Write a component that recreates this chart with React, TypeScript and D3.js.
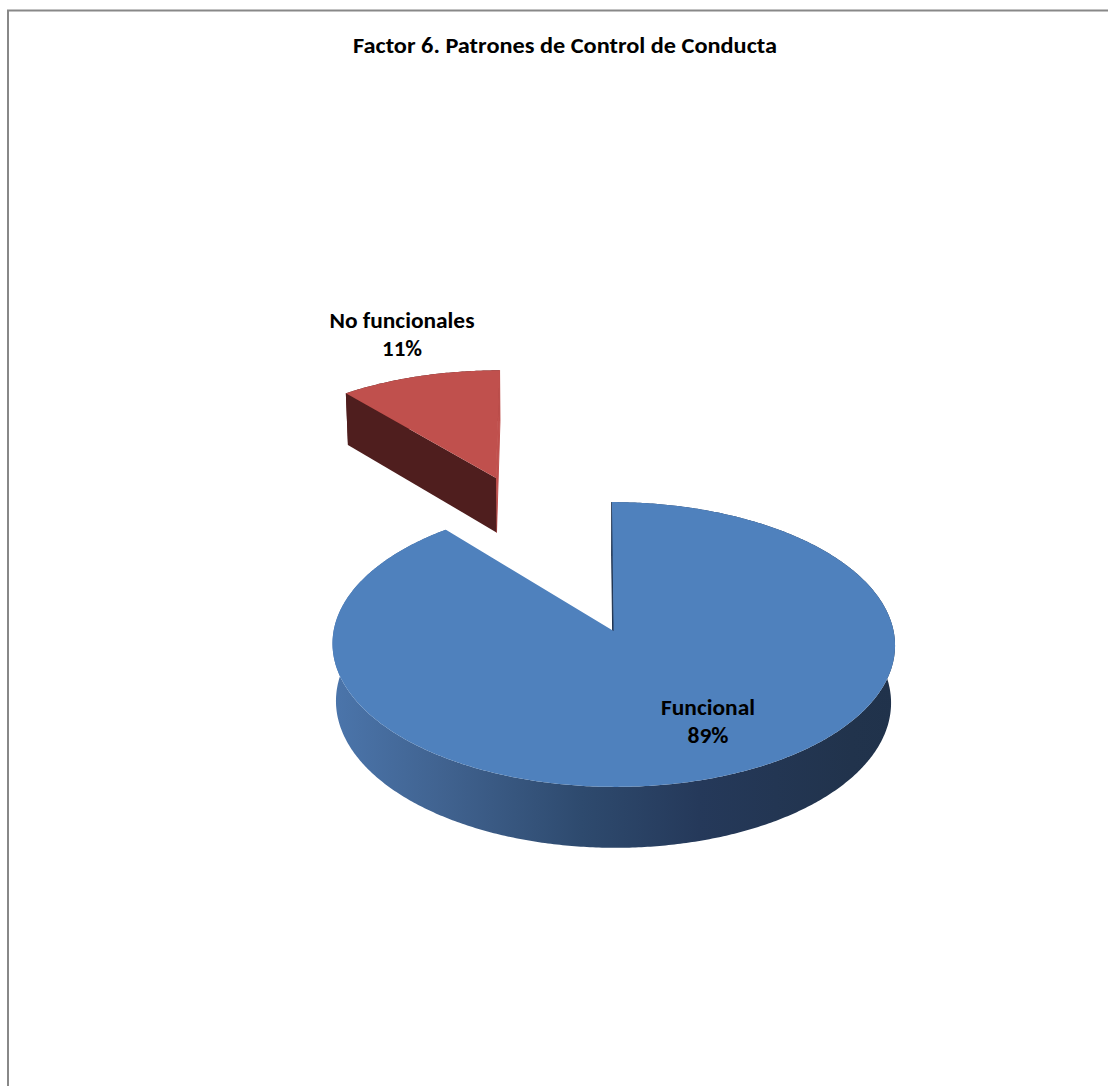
import React from "react";
import * as d3 from "d3";

const title = "Factor 6. Patrones de Control de Conducta";
const categories = ["Funcional", "No funcionales"];
const values = [89, 11];
const percentLabels = ["89%", "11%"];
const topColors = ["#4F81BD", "#C0504D"];
const cutColors = ["#1F3350", "#4F1E1E"];

const W = 1108;
const H = 1086;

type View = { cx: number; cy: number; s: number; sinA: number; D: number; h: number; camX: number };

// view of each slice (second slice is exploded away from the pie)
const views: View[] = [
  { cx: 594, cy: 631, s: 280, sinA: 0.504, D: 9.12, h: 0.24, camX: -0.07 },
  { cx: 536, cy: 478, s: 258, sinA: 0.458, D: 9.12, h: 0.24, camX: 0.155 },
];

// label anchors (center x, first baseline y, text widths)
const labelLayout = [
  { x: 708, y: 715, w1: 94, w2: 41 },
  { x: 402, y: 328, w1: 145, w2: 40 },
];

function project(v: View, th: number, r: number, yh: number): [number, number] {
  const cosA = Math.sqrt(1 - v.sinA * v.sinA);
  const X = r * Math.sin(th) - v.camX;
  const Z = r * Math.cos(th);
  const yc = Z * v.sinA + yh * cosA;
  const depth = v.D + Z * cosA - yh * v.sinA;
  const f = v.D / depth;
  return [v.cx + v.s * X * f, v.cy - v.s * yc * f];
}

function arcPts(v: View, a0: number, a1: number, yh: number): [number, number][] {
  const n = Math.max(8, Math.ceil(Math.abs(a1 - a0) / 0.01));
  const pts: [number, number][] = [];
  for (let i = 0; i <= n; i++) {
    const t = a0 + ((a1 - a0) * i) / n;
    pts.push(project(v, t, 1, yh));
  }
  return pts;
}

const line = d3.line<[number, number]>();

export default function App() {
  const pie = d3.pie<number>().sort(null).startAngle(0).endAngle(2 * Math.PI);
  const arcs = pie(values);

  const shapes = arcs.map((a, i) => {
    const v = views[i];
    const a0 = a.startAngle;
    const a1 = a.endAngle;
    const topArc = arcPts(v, a0, a1, 0);
    const botArc = arcPts(v, a1, a0, -v.h);
    const c0 = project(v, 0, 0, 0);
    const c1 = project(v, 0, 0, -v.h);
    const wall = line([...topArc, ...botArc]) + "Z";
    const top = line([c0, ...topArc]) + "Z";
    const cutA = line([c0, project(v, a0, 1, 0), project(v, a0, 1, -v.h), c1]) + "Z";
    const cutB = line([c0, project(v, a1, 1, 0), project(v, a1, 1, -v.h), c1]) + "Z";
    return { wall, top, cutA, cutB, i };
  });

  const fontFamily = "Calibri, Carlito, Lato, 'Open Sans', sans-serif";

  return (
    <svg
      width={W}
      height={H}
      style={{ position: "absolute", left: 0, top: 0, background: "#fff" }}
    >
      <defs>
        <linearGradient id="wallGrad" gradientUnits="userSpaceOnUse" x1={333} x2={897} y1={0} y2={0}>
          <stop offset="0" stopColor="#4B75AB" />
          <stop offset="0.2" stopColor="#40628F" />
          <stop offset="0.44" stopColor="#2E4A6E" />
          <stop offset="0.65" stopColor="#25395A" />
          <stop offset="0.92" stopColor="#21334C" />
          <stop offset="1" stopColor="#20324B" />
        </linearGradient>
      </defs>
      <path d={`M8,${H + 10} V10.5 H${W + 10}`} fill="none" stroke="#888888" strokeWidth={2} />
      <text
        x={565}
        y={53}
        textAnchor="middle"
        fontFamily={fontFamily}
        fontWeight="bold"
        fontSize={22}
        textLength={424}
        lengthAdjust="spacingAndGlyphs"
        fill="#000"
      >
        {title}
      </text>
      {[1, 0].map((i) => {
        const sh = shapes[i];
        return (
          <g key={categories[i]}>
            <path d={sh.wall} fill={i === 0 ? "url(#wallGrad)" : cutColors[i]} />
            <path
              d={i === 0 ? sh.cutA : sh.cutB}
              fill={i === 0 ? cutColors[0] : topColors[1]}
              stroke={i === 0 ? cutColors[0] : topColors[1]}
              strokeWidth={1}
            />
            {i === 1 && <path d={sh.cutA} fill={cutColors[1]} />}
            <path d={sh.top} fill={topColors[i]} />
          </g>
        );
      })}
      {categories.map((c, i) => {
        const L = labelLayout[i];
        return (
          <g key={"lbl" + c} fontFamily={fontFamily} fontWeight="bold" fontSize={22} fill="#000">
            <text x={L.x} y={L.y} textAnchor="middle" textLength={L.w1} lengthAdjust="spacingAndGlyphs">
              {c}
            </text>
            <text x={L.x} y={L.y + 28} textAnchor="middle" textLength={L.w2} lengthAdjust="spacingAndGlyphs">
              {percentLabels[i]}
            </text>
          </g>
        );
      })}
    </svg>
  );
}
